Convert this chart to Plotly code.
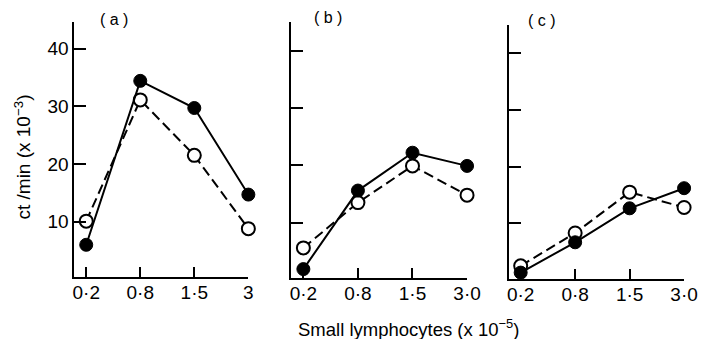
import plotly.graph_objects as go

W, H = 715, 339

x_labels_a = ["0·2", "0·8", "1·5", "3"]
x_labels_bc = ["0·2", "0·8", "1·5", "3·0"]
y_ticks = [10, 20, 30, 40]

filled_a = [6.0, 34.4, 29.7, 14.7]
open_a = [10.1, 31.1, 21.5, 8.8]
filled_b = [1.9, 15.6, 22.2, 19.9]
open_b = [5.6, 13.5, 19.9, 14.8]
filled_c = [1.3, 6.65, 12.65, 16.2]
open_c = [2.5, 8.3, 15.5, 12.8]

panel_names = ["( a )", "( b )", "( c )"]

FONT = "Liberation Sans"

# pixel geometry per panel: (left, right, bottom, top) and y range
panels = [
    dict(xl=74, xr=252, yb=277, yt=22, yr=[0.42, 44.6], cats=x_labels_a,
         f=filled_a, o=open_a, lab=(115, 20)),
    dict(xl=296, xr=475.7, yb=277.7, yt=22, yr=[0.4, 45.0], cats=x_labels_bc,
         f=filled_b, o=open_b, lab=(333, 18)),
    dict(xl=518.3, xr=697.7, yb=279.3, yt=25, yr=[0.12, 45.0], cats=x_labels_bc,
         f=filled_c, o=open_c, lab=(552, 21)),
]

fig = go.Figure()
layout = {}
annotations = []
for i, p in enumerate(panels):
    n = "" if i == 0 else str(i + 1)
    xa, ya = "x" + n, "y" + n
    fig.add_trace(go.Scatter(
        x=p["cats"], y=p["o"], xaxis=xa, yaxis=ya, mode="lines+markers",
        line=dict(color="black", width=2, dash="10px,5px"),
        marker=dict(size=13, color="white", line=dict(color="black", width=2)),
        cliponaxis=False, showlegend=False))
    fig.add_trace(go.Scatter(
        x=p["cats"], y=p["f"], xaxis=xa, yaxis=ya, mode="lines+markers",
        line=dict(color="black", width=2),
        marker=dict(size=13, color="black", line=dict(color="black", width=1)),
        cliponaxis=False, showlegend=False))
    layout["xaxis" + n] = dict(
        domain=[p["xl"] / W, p["xr"] / W], anchor=ya, type="category",
        categoryorder="array", categoryarray=p["cats"],
        range=[-0.22, 3], showline=True, linecolor="black", linewidth=2,
        ticks="inside", ticklen=10, tickwidth=2, tickcolor="black",
        ticklabelstandoff=-3,
        showgrid=False, zeroline=False,
        tickfont=dict(family=FONT, size=19, color="black"))
    layout["yaxis" + n] = dict(
        domain=[(H - p["yb"]) / H, (H - p["yt"]) / H], anchor=xa,
        range=p["yr"], showline=True, linecolor="black", linewidth=2,
        ticks="inside", ticklen=12, tickwidth=2, tickcolor="black",
        tickvals=y_ticks, showticklabels=(i == 0),
        showgrid=False, zeroline=False,
        tickfont=dict(family=FONT, size=19, color="black"))
    annotations.append(dict(
        text=panel_names[i], x=p["lab"][0] / W, y=1 - p["lab"][1] / H,
        xref="paper", yref="paper", showarrow=False, xanchor="center",
        yanchor="middle", font=dict(family=FONT, size=16, color="black")))

annotations.append(dict(
    text="ct /min (x 10<sup>−3</sup>)", x=21 / W, y=1 - 157 / H,
    xref="paper", yref="paper", showarrow=False, textangle=-90,
    xanchor="center", yanchor="middle",
    font=dict(family=FONT, size=19, color="black")))
annotations.append(dict(
    text="Small lymphocytes (x 10<sup>−5</sup>)", x=416 / W, y=1 - 328 / H,
    xref="paper", yref="paper", showarrow=False,
    xanchor="center", yanchor="middle",
    font=dict(family=FONT, size=18.5, color="black")))

fig.update_layout(
    width=W, height=H, margin=dict(l=0, r=0, t=0, b=0),
    paper_bgcolor="white", plot_bgcolor="white",
    annotations=annotations, **layout)

fig.write_html("out.html")
